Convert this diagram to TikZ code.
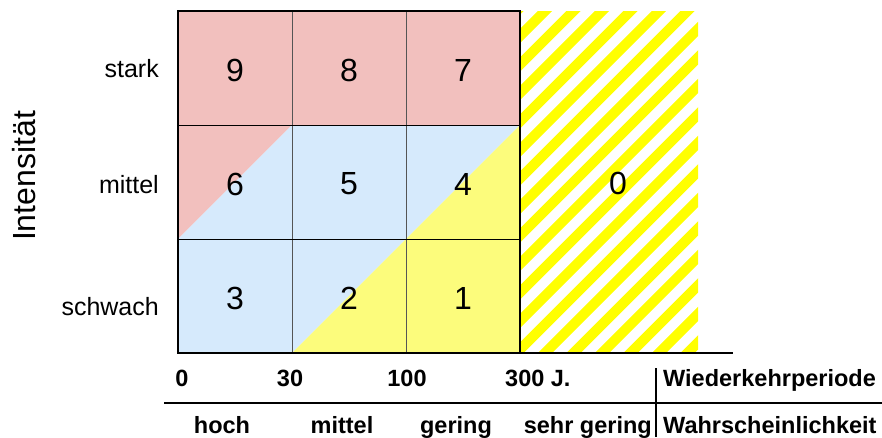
\documentclass[tikz,border=0pt]{standalone}
\usepackage{fontspec}
\setmainfont{Liberation Sans}
\definecolor{cred}{RGB}{242,192,190}
\definecolor{cblue}{RGB}{214,234,252}
\definecolor{cyel}{RGB}{252,252,124}
\definecolor{hyel}{RGB}{255,255,0}
\definecolor{gline}{RGB}{85,85,85}
\tikzset{
  num/.style={inner sep=0pt, font=\fontsize{32}{38}\selectfont},
  lab/.style={inner sep=0pt, anchor=base east, font=\fontsize{25}{30}\selectfont},
  btxt/.style={inner sep=0pt, font=\fontsize{23.5}{28}\selectfont\bfseries},
  stripe/.style={draw=hyel, line width=10pt},
  colline/.style={draw=gline, line width=0.9pt},
  rowline/.style={draw=black, line width=1pt},
  border/.style={draw=black, line width=2pt},
  tabline/.style={draw=black, line width=1.2pt}
}
\begin{document}
\begin{tikzpicture}[x=1pt,y=-1pt]
\useasboundingbox[fill=white] (0,0) rectangle (882,437);
% fills
\fill[cred] (178,11) -- (520,11) -- (520,125) -- (292,125) -- (178,239) -- cycle;
\fill[cblue] (178,239) -- (292,125) -- (520,125) -- (292,353) -- (178,353) -- cycle;
\fill[cyel] (520,125) -- (520,353) -- (292,353) -- cycle;
% hatch
\begin{scope}
  \clip (520,11) rectangle (698,353);
  \foreach \k in {-14,...,7} \draw[stripe] ({545+28.5*\k-20},373) -- ++(382,-382);
\end{scope}
% grid lines
\draw[colline] (292,11) -- (292,353);
\draw[colline] (406,11) -- (406,353);
\draw[rowline] (178,125) -- (520,125);
\draw[rowline] (178,239) -- (520,239);
\draw[border] (178,353) -- (178,11) -- (520,11) -- (520,353);
\draw[border] (177,353) -- (733,353);
% cell numbers
\node[num] (n9) at (235,70) {9};
\node[num] (n8) at (349,70) {8};
\node[num] (n7) at (463,70) {7};
\node[num] (n6) at (235,184) {6};
\node[num] (n5) at (349,184) {5};
\node[num] (n4) at (463,184) {4};
\node[num] (n3) at (235,298) {3};
\node[num] (n2) at (349,298) {2};
\node[num] (n1) at (463,298) {1};
\node[num] (n0) at (618,183) {0};
% row labels
\node[lab] (lstark) at (159,77) {stark};
\node[lab] (lmittel) at (159,193) {mittel};
\node[lab] (lschwach) at (159,315) {schwach};
\node[inner sep=0pt, anchor=base, rotate=90, font=\fontsize{32}{38}\selectfont] (lint) at (35,176) {Intensität};
% bottom table
\draw[tabline] (164,403) -- (882,403);
\draw[tabline] (656,368) -- (656,437);
\node[btxt, anchor=base] (t0) at (182,386) {0};
\node[btxt, anchor=base] (t30) at (290,386) {30};
\node[btxt, anchor=base] (t100) at (407,386) {100};
\node[btxt, anchor=base west] (t300) at (505,386) {300 J.};
\node[btxt, anchor=base west] (twk) at (663,386) {Wiederkehrperiode};
\node[btxt, anchor=base] (bhoch) at (222,433) {hoch};
\node[btxt, anchor=base] (bmittel) at (342,433) {mittel};
\node[btxt, anchor=base] (bgering) at (456,433) {gering};
\node[btxt, anchor=base east] (bsehr) at (652,433) {sehr gering};
\node[btxt, anchor=base west] (bwahr) at (663,433) {Wahrscheinlichkeit};
\end{tikzpicture}
\end{document}
